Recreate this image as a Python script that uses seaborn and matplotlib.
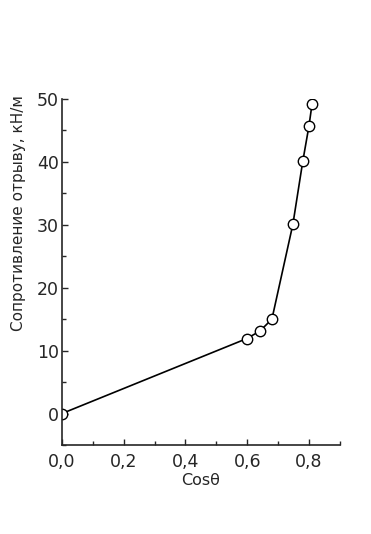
import matplotlib
matplotlib.use("Agg")
import matplotlib.pyplot as plt
from matplotlib.ticker import MultipleLocator, FuncFormatter
import pandas as pd
import seaborn as sns

cos_theta = [0.0, 0.598, 0.641, 0.680, 0.748, 0.780, 0.800, 0.810]
resistance = [0.0, 11.9, 13.1, 15.0, 30.1, 40.1, 45.7, 49.2]

df = pd.DataFrame({"cos": cos_theta, "res": resistance})

sns.set_style("ticks")
plt.rcParams["font.family"] = ["DejaVu Sans"]

fig = plt.figure(figsize=(3.71, 5.34), dpi=100)
ax = fig.add_axes([0.167, 0.1667, 0.749, 0.648])

sns.lineplot(data=df, x="cos", y="res", ax=ax, color="black", linewidth=1.2,
             marker="o", markersize=7.5, markerfacecolor="white",
             markeredgecolor="black", markeredgewidth=1.0)

ax.set_xlim(0, 0.9)
ax.set_ylim(-5, 50)
ax.xaxis.set_major_locator(MultipleLocator(0.2))
ax.xaxis.set_minor_locator(MultipleLocator(0.1))
ax.yaxis.set_major_locator(MultipleLocator(10))
ax.yaxis.set_minor_locator(MultipleLocator(5))
ax.xaxis.set_major_formatter(FuncFormatter(lambda v, p: f"{v:.1f}".replace(".", ",")))
ax.yaxis.set_major_formatter(FuncFormatter(lambda v, p: f"{v:.0f}"))

ax.tick_params(which="major", direction="in", length=4, width=1, labelsize=12.5, pad=2)
ax.tick_params(which="minor", direction="in", length=3, width=1)
ax.tick_params(axis="x", which="major", pad=6)
for side in ["top", "right"]:
    ax.spines[side].set_visible(False)
for side in ["left", "bottom"]:
    ax.spines[side].set_linewidth(1.2)

ax.set_xlabel("Cosθ", fontsize=11.5, labelpad=1)
ax.set_ylabel("Сопротивление отрыву, кН/м", fontsize=11)
ax.yaxis.set_label_coords(-0.13, 0.67)

fig.savefig("out.png", dpi=100)
